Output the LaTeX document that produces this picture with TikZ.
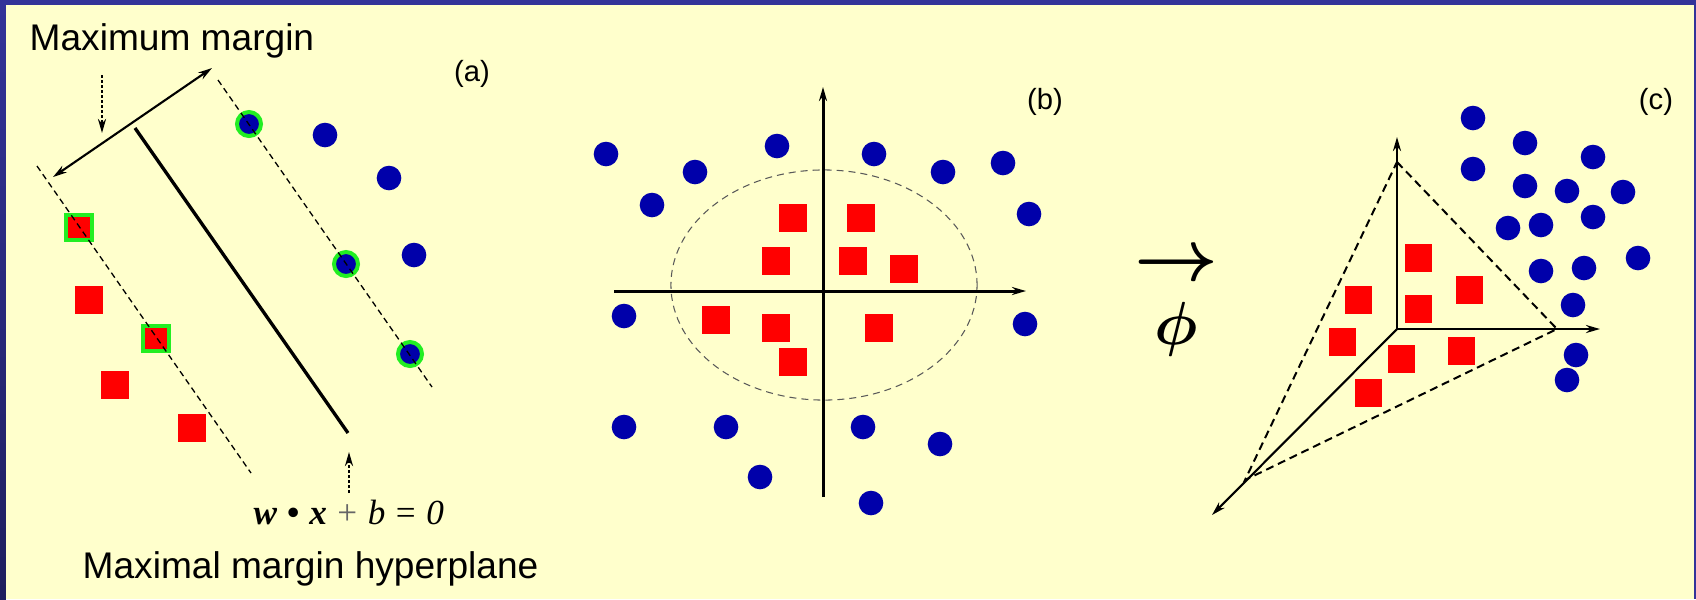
\documentclass[tikz,border=0pt]{standalone}
\usepackage{fontspec}
\newfontfamily\labelfont{Liberation Sans}
\newfontfamily\eqfont{Liberation Serif}
\usetikzlibrary{arrows.meta}
\definecolor{bgyellow}{HTML}{FFFFCC}
\definecolor{framebl}{HTML}{333399}
\definecolor{framedk}{HTML}{1E1E5E}
\definecolor{dotblue}{HTML}{0000AA}
\definecolor{svgreen}{HTML}{22EE22}

\begin{document}
\begin{tikzpicture}[x=0.01cm, y=-0.01cm, >={Stealth[length=0.14cm, width=0.08cm]},
  every node/.style={font=\labelfont},
  bluedot/.style={fill=dotblue},
  svdot/.style={fill=dotblue, draw=svgreen, line width=0.04cm},
  redsq/.style={fill=red, minimum width=0.27cm, minimum height=0.28cm, inner sep=0pt},
  svsq/.style={fill=red, draw=svgreen, line width=0.04cm, minimum size=0.25cm, inner sep=0pt},
  margin/.style={line width=0.013cm, dash pattern=on 0.06cm off 0.04cm},
  hint/.style={->, line width=0.028cm, dash pattern=on 0.03cm off 0.02cm},
  plane/.style={line width=0.02cm, dash pattern=on 0.08cm off 0.05cm},
  axis/.style={->, line width=0.85pt},
  bigtext/.style={font=\labelfont\fontsize{10.55}{12}\selectfont, anchor=base west, inner sep=0pt},
  tag/.style={font=\labelfont\fontsize{8.3}{10}\selectfont, inner sep=0pt},
  mathbig/.style={font=\fontsize{19.3}{20}\selectfont, inner sep=0pt}]
  \useasboundingbox (0,0) rectangle (1696,599);
  % slide background and frame
  \fill[bgyellow] (0,0) rectangle (1696,599);
  \fill[framebl] (0,0) rectangle (1696,5);
  \shade[top color=framebl, bottom color=framedk] (0,0) rectangle (6,599);
  \fill[framebl] (1693.5,0) rectangle (1696,599);

  % (a) maximal margin
  \foreach \p in {(89,300),(115,385),(192,428)} \node[redsq] at \p {};
  \foreach \p in {(79,227),(156,338)} \node[svsq] at \p {};
  \foreach \p in {(325,135),(389,178),(414,255)} \fill[bluedot] \p circle (0.123cm);
  \foreach \p in {(249,124),(346,264),(410,354)} \filldraw[svdot] \p circle (0.12cm);
  \coordinate (lowA) at (37,166);  \coordinate (lowB) at (251,473);
  \coordinate (hypA) at (135,128); \coordinate (hypB) at (348,433);
  \coordinate (upA) at (218,80);   \coordinate (upB) at (432,387);
  \coordinate (mgA) at (53,177);   \coordinate (mgB) at (212,68);
  \draw[margin] (lowA) -- (lowB);
  \draw[line width=0.95pt] (hypA) -- (hypB);
  \draw[margin] (upA) -- (upB);
  \draw[<->, line width=0.6pt] (mgA) -- (mgB);
  \node[bigtext] (mmlabel) at (29,50) {Maximum margin};
  \coordinate (mmTail) at (102,75); \coordinate (mmTip) at (102,133);
  \draw[hint] (mmTail) -- (mmTip);
  \node[tag] (alabel) at (472,74) {(a)};
  \node[font=\eqfont\fontsize{10}{12}\selectfont, anchor=base west, inner sep=0pt] (eq) at (253,524)
    {\textbf{\textit{w}}\hspace{0.28em}\textbf{\textbullet}\hspace{0.28em}\textbf{\textit{x}}\hspace{0.3em}{\color{black!60}+}\hspace{0.3em}\textit{b}\hspace{0.3em}=\hspace{0.3em}\textit{0}};
  \coordinate (hpTail) at (349,493); \coordinate (hpTip) at (349,452);
  \draw[hint] (hpTail) -- (hpTip);
  \node[bigtext] (hplabel) at (82,578) {Maximal margin hyperplane};

  % (b) input space
  \foreach \p in {(606,154),(652,205),(695,172),(777,146),(874,154),(943,172),(1003,163),(1029,214),
    (624,316),(1025,324),(624,427),(726,427),(760,477),(863,427),(940,444),(871,503)}
    \fill[bluedot] \p circle (0.123cm);
  \foreach \p in {(793,218),(861,218),(776,261),(853,261),(904,269),(716,320),(776,328),(879,328),(793,362)}
    \node[redsq] at \p {};
  \coordinate (bC) at (824,285);
  \draw[black!65, line width=0.3pt, dash pattern=on 0.07cm off 0.05cm] (bC) ellipse [x radius=1.53cm, y radius=1.15cm];
  \coordinate (bxA) at (614,291); \coordinate (bxB) at (1026,291);
  \coordinate (byA) at (823,497); \coordinate (byB) at (823,87);
  \draw[axis] (bxA) -- (bxB);
  \draw[axis] (byA) -- (byB);
  \node[tag] (blabel) at (1045,102) {(b)};

  % mapping
  \node[mathbig, anchor=base] (maparrow) at (1176,280) {{\boldmath$\rightarrow$}};
  \node[mathbig, font=\fontsize{18.5}{20}\selectfont] (phi) at (1176,329) {{\boldmath$\phi$}};

  % (c) feature space
  \foreach \p in {(1473,118),(1525,143),(1473,169),(1593,157),(1525,186),(1567,191),(1623,192),(1593,217),
    (1508,228),(1541,225),(1638,258),(1541,271),(1584,268),(1573,305),(1576,355),(1567,380)}
    \fill[bluedot] \p circle (0.123cm);
  \foreach \p in {(1418,258),(1469,290),(1358,300),(1418,309),(1342,342),(1401,359),(1461,351),(1368,393)}
    \node[redsq] at \p {};
  \coordinate (cO) at (1397,329);
  \coordinate (cUp) at (1397,137); \coordinate (cRt) at (1600,329); \coordinate (cDn) at (1212,515);
  \coordinate (cT) at (1397,162); \coordinate (cR) at (1557,329); \coordinate (cL) at (1245,480);
  \draw[axis, line width=0.7pt] (cO) -- (cUp);
  \draw[axis, line width=0.7pt] (cO) -- (cRt);
  \draw[axis, line width=0.6pt] (cO) -- (cDn);
  \draw[plane] (cT) -- (cR) -- (cL) -- cycle;
  \node[tag] (clabel) at (1656,102) {(c)};
\end{tikzpicture}
\end{document}
